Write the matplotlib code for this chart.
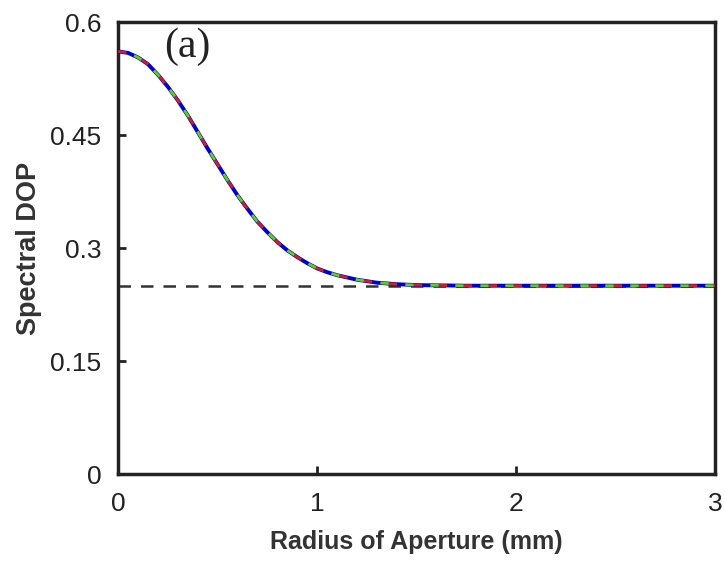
import matplotlib
matplotlib.use("Agg")
import matplotlib.pyplot as plt

radius = [0.0, 0.05, 0.1, 0.15, 0.2, 0.25, 0.3, 0.35, 0.4, 0.45, 0.5, 0.55, 0.6,
          0.65, 0.7, 0.75, 0.8, 0.85, 0.9, 0.95, 1.0, 1.05, 1.1, 1.2, 1.3, 1.4,
          1.5, 1.75, 2.0, 2.5, 3.0]
dop_blue = [0.561, 0.559, 0.553, 0.544, 0.530, 0.514, 0.496, 0.476, 0.454, 0.432,
            0.411, 0.390, 0.370, 0.352, 0.335, 0.321, 0.308, 0.297, 0.288, 0.280,
            0.273, 0.268, 0.264, 0.258, 0.2540, 0.2520, 0.2508, 0.250, 0.250, 0.250, 0.250]
dop_red = list(dop_blue)
dop_green = list(dop_blue)
limit_x = [0.0, 3.0]
limit_y = [0.25, 0.25]
xticks = [0, 1, 2, 3]
yticks = [0, 0.15, 0.3, 0.45, 0.6]
yticklabels = ["0", "0.15", "0.3", "0.45", "0.6"]

plt.rcParams['font.family'] = ['Liberation Sans', 'DejaVu Sans']

fig = plt.figure(figsize=(7.25, 5.65), dpi=100)
ax = fig.add_axes([0.163, 0.161, 0.823, 0.8])

ax.plot(limit_x, limit_y, color='#333333', lw=1.8, linestyle=(0, (5, 4)), zorder=2)
ax.plot(radius, dop_blue, color='#0000cc', lw=2.8, zorder=3)
ax.plot(radius, dop_red, color='#cc2222', lw=2.0, linestyle=(0, (3, 6)), zorder=4)
ax.plot(radius, dop_green, color='#66cc22', lw=2.0, linestyle=(3, (3, 6)), zorder=5)

ax.set_xlim(0, 3)
ax.set_ylim(0, 0.6)
ax.set_xticks(xticks)
ax.set_xticklabels([str(v) for v in xticks])
ax.set_yticks(yticks)
ax.set_yticklabels(yticklabels)
ax.tick_params(direction='in', length=6, width=2, labelsize=19, colors='#222222')
ax.tick_params(axis='x', pad=13)
ax.tick_params(axis='y', pad=12)
for s in ax.spines.values():
    s.set_linewidth(2.5)
    s.set_color('#222222')

ax.set_xlabel('Radius of Aperture (mm)', fontsize=18, fontweight='bold', color='#333333', labelpad=10)
ax.set_ylabel('Spectral DOP', fontsize=19.5, fontweight='bold', color='#333333', labelpad=6)
ax.text(0.35, 0.567, '(a)', fontsize=30, family=['Liberation Serif', 'DejaVu Serif'],
        ha='center', va='center', color='#222222')

fig.savefig('out.png', dpi=100)
